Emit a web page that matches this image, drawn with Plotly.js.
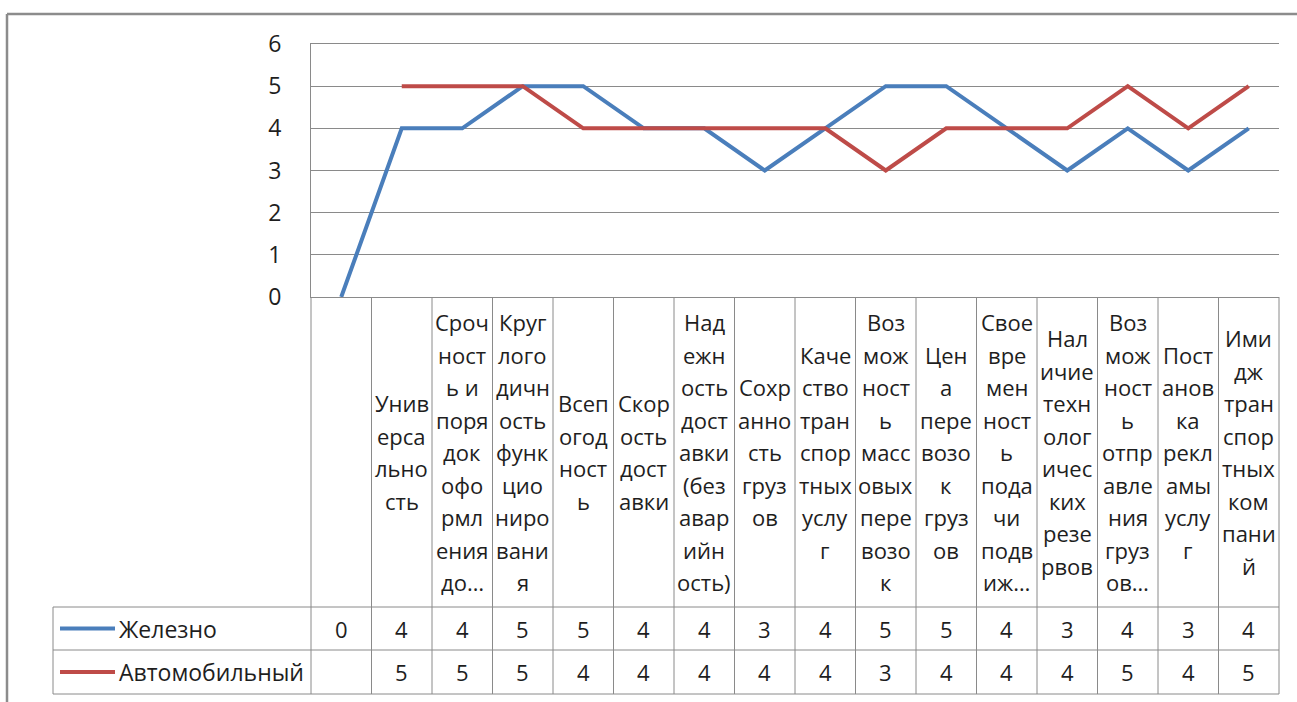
<!DOCTYPE html>
<html>
<head>
<meta charset="utf-8">
<script src="https://cdn.plot.ly/plotly-3.0.1.min.js"></script>
<style>html,body{margin:0;padding:0;background:#fff;}#chart{width:1297px;height:702px;}</style>
</head>
<body>
<div id="chart"></div>
<script>
// ---- data ----
var seriesNames = ["Железно", "Автомобильный"];
var categoryLabels = [
  [""],
  ["Унив","ерса","льно","сть"],
  ["Сроч","ност","ь и","поря","док","офо","рмл","ения","до…"],
  ["Круг","лого","дичн","ость","функ","цио","ниро","вани","я"],
  ["Всеп","огод","ност","ь"],
  ["Скор","ость","дост","авки"],
  ["Над","ежн","ость","дост","авки","(без","авар","ийн","ость)"],
  ["Сохр","анно","сть","груз","ов"],
  ["Каче","ство","тран","спор","тных","услу","г"],
  ["Воз","мож","ност","ь","масс","овых","пере","возо","к"],
  ["Цен","а","пере","возо","к","груз","ов"],
  ["Свое","вре","мен","ност","ь","пода","чи","подв","иж…"],
  ["Нал","ичие","техн","олог","ичес","ких","резе","рвов"],
  ["Воз","мож","ност","ь","отпр","авле","ния","груз","ов…"],
  ["Пост","анов","ка","рекл","амы","услу","г"],
  ["Ими","дж","тран","спор","тных","ком","пани","й"]
];
var railValues = [0, 4, 4, 5, 5, 4, 4, 3, 4, 5, 5, 4, 3, 4, 3, 4];
var autoValues = [null, 5, 5, 5, 4, 4, 4, 4, 4, 3, 4, 4, 4, 5, 4, 5];
var yTickValues = [0, 1, 2, 3, 4, 5, 6];

// ---- layout helpers ----
var W = 1297, H = 702;
var mL = 311, mR = 18, mT = 44, mB = 405;
var plotW = W - mL - mR, plotH = H - mT - mB;
var n = categoryLabels.length;
var xMin = -0.5, xMax = n - 0.5;
function xp(v) { return (v - xMin) / (xMax - xMin); }          // data x -> paper
function pxX(px) { return (px - mL) / plotW; }                  // pixel x -> paper
function pxY(px) { return (mT + plotH - px) / plotH; }          // pixel y -> paper

var colors = ["#4A7EBB", "#BE4B48"];
var gridColor = "#8A8A8A";
var textColor = "#1E1E1E";
var font = "Open Sans, Noto Sans, sans-serif";

var headerBottom = 607, row1Bottom = 650, row2Bottom = 694, legendLeft = 53;
var lineStep = 32.5;
var headerCenter = (mT + plotH + headerBottom) / 2;

var x = [];
for (var i = 0; i < n; i++) x.push(i);

var traces = [
  {x: x, y: railValues, name: seriesNames[0], mode: "lines", type: "scatter",
   line: {color: colors[0], width: 4}, cliponaxis: false, hoverinfo: "skip"},
  {x: x, y: autoValues, name: seriesNames[1], mode: "lines", type: "scatter",
   line: {color: colors[1], width: 4}, cliponaxis: false, hoverinfo: "skip", connectgaps: false}
];

var shapes = [];
var annotations = [];
function hline(y, x0, x1, c, w) {
  shapes.push({type: "line", xref: "paper", yref: "paper", x0: x0, x1: x1, y0: y, y1: y,
               line: {color: c || gridColor, width: w || 1}});
}
function vline(xv, y0, y1, c, w) {
  shapes.push({type: "line", xref: "paper", yref: "paper", x0: xv, x1: xv, y0: y0, y1: y1,
               line: {color: c || gridColor, width: w || 1}});
}

// outer chart border
hline(pxY(14), pxX(7), pxX(W + 5), "#8C8C8C", 2.5);
vline(pxX(7), pxY(14), pxY(H + 5), "#8C8C8C", 2.5);

// table vertical lines
for (var k = 0; k <= n; k++) vline(xp(k - 0.5), 0, pxY(row2Bottom));
vline(pxX(legendLeft), pxY(headerBottom), pxY(row2Bottom));
// table horizontal lines
hline(pxY(headerBottom), pxX(legendLeft), 1);
hline(pxY(row1Bottom), pxX(legendLeft), 1);
hline(pxY(row2Bottom), pxX(legendLeft), 1);

// category labels
for (var i = 0; i < n; i++) {
  var lines = categoryLabels[i];
  var m = lines.length;
  for (var j = 0; j < m; j++) {
    if (!lines[j]) continue;
    var cy = headerCenter + (j - (m - 1) / 2) * lineStep;
    annotations.push({xref: "paper", yref: "paper", x: xp(i), y: pxY(cy), text: lines[j],
      showarrow: false, xanchor: "center", yanchor: "middle",
      font: {family: font, size: 22, color: textColor}});
  }
}

// data rows
var rows = [railValues, autoValues];
var rowCenters = [(headerBottom + row1Bottom) / 2, (row1Bottom + row2Bottom) / 2];
for (var r = 0; r < rows.length; r++) {
  for (var i = 0; i < n; i++) {
    if (rows[r][i] === null) continue;
    annotations.push({xref: "paper", yref: "paper", x: xp(i), y: pxY(rowCenters[r]),
      text: String(rows[r][i]), showarrow: false, xanchor: "center", yanchor: "middle",
      font: {family: font, size: 22, color: textColor}});
  }
  // legend key
  shapes.push({type: "line", xref: "paper", yref: "paper", x0: pxX(60), x1: pxX(115),
    y0: pxY(rowCenters[r]), y1: pxY(rowCenters[r]), line: {color: colors[r], width: 4}});
  annotations.push({xref: "paper", yref: "paper", x: pxX(117), y: pxY(rowCenters[r]),
    text: seriesNames[r], showarrow: false, xanchor: "left", yanchor: "middle",
    font: {family: font, size: 23, color: textColor}});
}

var layout = {
  width: W, height: H,
  margin: {l: mL, r: mR, t: mT, b: mB, pad: 0},
  paper_bgcolor: "#ffffff", plot_bgcolor: "#ffffff",
  showlegend: false,
  xaxis: {range: [xMin, xMax], showticklabels: false, showgrid: false, zeroline: false,
          showline: true, mirror: true, linecolor: gridColor, linewidth: 1, ticks: "", fixedrange: true},
  yaxis: {range: [0, 6], tickvals: yTickValues, ticktext: yTickValues.map(String),
          showgrid: true, gridcolor: gridColor, gridwidth: 1, zeroline: false,
          showline: true, linecolor: gridColor, linewidth: 1, ticks: "",
          ticklabelstandoff: 24,
          tickfont: {family: font, size: 23, color: textColor}, fixedrange: true},
  shapes: shapes,
  annotations: annotations
};

Plotly.newPlot("chart", traces, layout, {staticPlot: true, displayModeBar: false});
</script>
</body>
</html>
